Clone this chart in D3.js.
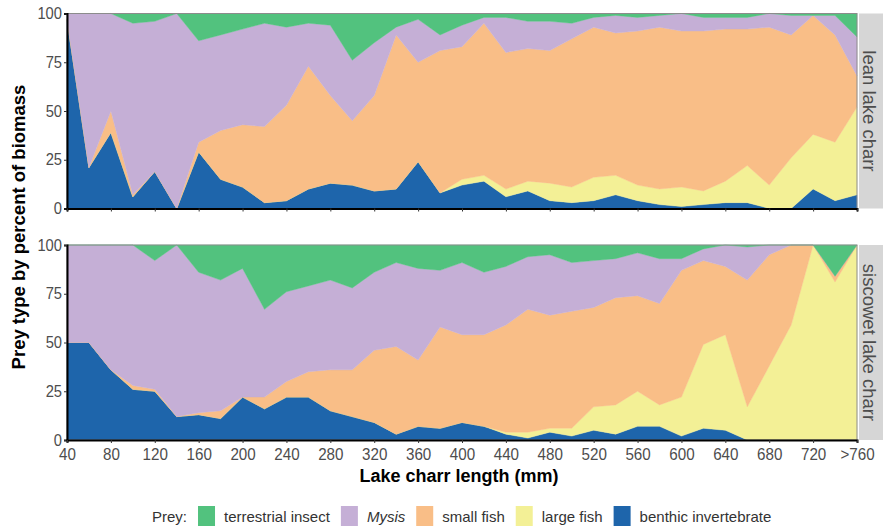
<!DOCTYPE html>
<html>
<head>
<meta charset="utf-8">
<script src="https://cdn.jsdelivr.net/npm/d3@7"></script>
<style>
  html, body { margin: 0; padding: 0; background: #ffffff; }
  svg { display: block; font-family: "Liberation Sans", Arial, Helvetica, sans-serif; }
</style>
</head>
<body>
<svg id="chart" width="883" height="529"></svg>
<script>
// Lake charr length classes (mm), 20 mm bins; last bin is ">760"
const lengths = d3.range(40, 761, 20);
const tickValues = d3.range(40, 761, 40);
const tickLabels = tickValues.map(v => v === 760 ? ">760" : String(v));

// Prey categories, stacked bottom to top
const preyKeys = ["benthic", "large", "small", "mysis", "insect"];
const preyLabels = {
  insect: "terrestrial insect",
  mysis: "Mysis",
  small: "small fish",
  large: "large fish",
  benthic: "benthic invertebrate"
};
const preyColors = {
  insect: "#52c27e",
  mysis: "#c5afd6",
  small: "#f9be87",
  large: "#f3f096",
  benthic: "#1e65ab"
};
const legendOrder = ["insect", "mysis", "small", "large", "benthic"];

// Lean lake charr: percent of biomass by prey type
const leanBenthic = [97, 21, 39, 6, 19, 0, 29, 15, 11, 3, 4, 10, 13, 12, 9, 10, 24, 8, 12, 14, 6, 9, 4, 3, 4, 7, 4, 2, 1, 2, 3, 3, 0, 0, 10, 4, 7];
const leanLarge   = [0, 0, 0, 0, 0, 0, 0, 0, 0, 0, 0, 0, 0, 0, 0, 0, 0, 0, 3, 3, 4, 5, 9, 8, 12, 10, 8, 8, 10, 7, 11, 19, 12, 26, 28, 30, 45];
const leanSmall   = [0, 0, 11, 1, 0, 0, 5, 25, 32, 39, 49, 63, 45, 33, 49, 79, 51, 73, 68, 78, 70, 68, 68, 76, 77, 73, 79, 83, 80, 82, 78, 70, 81, 63, 61, 55, 16];
const leanMysis   = [3, 79, 50, 88, 77, 100, 52, 49, 49, 53, 40, 22, 36, 31, 27, 4, 22, 8, 11, 3, 18, 14, 15, 8, 5, 9, 7, 6, 9, 7, 6, 6, 7, 10, 0, 10, 20];
const leanInsect  = [0, 0, 0, 5, 4, 0, 14, 11, 8, 5, 7, 5, 6, 24, 15, 7, 3, 11, 6, 2, 2, 4, 4, 5, 2, 1, 2, 1, 0, 2, 2, 2, 0, 1, 1, 1, 12];

// Siscowet lake charr: percent of biomass by prey type
const sisBenthic = [50, 50, 36, 26, 25, 12, 13, 11, 22, 16, 22, 22, 15, 12, 9, 3, 7, 6, 9, 7, 3, 1, 4, 2, 5, 3, 7, 7, 2, 6, 5, 0, 0, 0, 0, 0, 0];
const sisLarge   = [0, 0, 0, 0, 0, 0, 0, 0, 0, 0, 0, 0, 0, 0, 0, 0, 0, 0, 0, 0, 1, 3, 2, 4, 12, 15, 18, 11, 20, 43, 49, 17, 38, 59, 100, 81, 100];
const sisSmall   = [0, 0, 0, 2, 1, 0, 1, 4, 0, 6, 8, 13, 21, 24, 37, 45, 34, 52, 45, 47, 55, 63, 58, 60, 51, 55, 49, 52, 65, 43, 35, 65, 57, 41, 0, 3, 0];
const sisMysis   = [50, 50, 64, 72, 66, 88, 72, 67, 66, 45, 46, 44, 46, 42, 40, 43, 47, 29, 37, 32, 30, 27, 31, 25, 24, 20, 22, 23, 6, 6, 11, 17, 5, 0, 0, 0, 0];
const sisInsect  = [0, 0, 0, 0, 8, 0, 14, 18, 12, 33, 24, 21, 18, 22, 14, 9, 12, 13, 9, 14, 11, 6, 5, 9, 8, 7, 4, 7, 7, 2, 0, 1, 0, 0, 0, 16, 0];

const yTicks = [0, 25, 50, 75, 100];

function buildRows(benthic, large, small, mysis, insect) {
  return lengths.map((len, i) => ({
    length: len,
    benthic: benthic[i], large: large[i], small: small[i], mysis: mysis[i], insect: insect[i]
  }));
}

// narrow the glyphs of a text selection horizontally
function condense(sel, factor) {
  sel.each(function () {
    const w = this.getComputedTextLength();
    if (w > 0) {
      d3.select(this).attr("textLength", w * factor).attr("lengthAdjust", "spacingAndGlyphs");
    }
  });
}

const panels = [
  { label: "lean lake charr", rows: buildRows(leanBenthic, leanLarge, leanSmall, leanMysis, leanInsect), top: 13.5, bottom: 208.5, showX: false },
  { label: "siscowet lake charr", rows: buildRows(sisBenthic, sisLarge, sisSmall, sisMysis, sisInsect), top: 245, bottom: 440, showX: true }
];

const svg = d3.select("#chart");
const left = 67, right = 857;
const x = d3.scaleLinear().domain([40, 760]).range([left, right]);
const stack = d3.stack().keys(preyKeys);

panels.forEach(p => {
  const y = d3.scaleLinear().domain([0, 100]).range([p.bottom, p.top]);
  const g = svg.append("g");

  const series = stack(p.rows);
  const area = d3.area()
    .x(d => x(d.data.length))
    .y0(d => y(d[0]))
    .y1(d => y(d[1]))
    .curve(d3.curveLinear);

  g.selectAll("path.layer")
    .data(series)
    .join("path")
    .attr("class", "layer")
    .attr("d", area)
    .attr("fill", d => preyColors[d.key])
    .attr("stroke", d => preyColors[d.key])
    .attr("stroke-width", 0.4);

  // panel frame
  g.append("rect")
    .attr("x", left).attr("y", p.top)
    .attr("width", right - left).attr("height", p.bottom - p.top)
    .attr("fill", "none").attr("stroke", "#8c8c8c").attr("stroke-width", 1);

  // y axis
  const yAxis = d3.axisLeft(y).tickValues(yTicks).tickSize(3).tickPadding(2);
  const ya = g.append("g").attr("transform", `translate(${left},0)`).call(yAxis);
  ya.select(".domain").attr("stroke", "#000").attr("stroke-width", 2);
  ya.selectAll(".tick line").attr("stroke", "#333");
  ya.selectAll(".tick text").attr("fill", "#4d4d4d").style("font-size", "16px").call(condense, 0.92);

  // x axis line (ticks labelled only on the lower panel)
  const xAxis = d3.axisBottom(x).tickValues(tickValues).tickSize(3).tickPadding(5)
    .tickFormat((d, i) => p.showX ? tickLabels[i] : "");
  const xa = g.append("g").attr("transform", `translate(0,${p.bottom})`).call(xAxis);
  xa.select(".domain").attr("stroke", "#000").attr("stroke-width", 2);
  xa.selectAll(".tick line").attr("stroke", "#333");
  xa.selectAll(".tick text").attr("fill", "#4d4d4d").style("font-size", "16.5px").call(condense, 0.92);

  // facet strip
  g.append("rect")
    .attr("x", 859).attr("y", p.top)
    .attr("width", 30).attr("height", p.bottom - p.top)
    .attr("fill", "#d6d6d6");
  g.append("text")
    .attr("transform", `translate(869,${(p.top + p.bottom) / 2}) rotate(90)`)
    .attr("text-anchor", "middle")
    .attr("dominant-baseline", "central")
    .attr("fill", "#4d4d4d")
    .style("font-size", "18.5px")
    .text(p.label);
});

// axis titles
svg.append("text")
  .attr("x", (left + right) / 2 - 3).attr("y", 482)
  .attr("text-anchor", "middle")
  .style("font-size", "18px").style("font-weight", "bold")
  .attr("fill", "#000")
  .text("Lake charr length (mm)");

svg.append("text")
  .attr("transform", "translate(18,227) rotate(-90)")
  .attr("text-anchor", "middle")
  .attr("dominant-baseline", "central")
  .style("font-size", "18.5px").style("font-weight", "bold")
  .attr("fill", "#000")
  .text("Prey type by percent of biomass");

// legend
const legend = svg.append("g").attr("transform", "translate(0,516)");
let cx = 152;
const title = legend.append("text")
  .attr("x", cx).attr("y", 0)
  .attr("dominant-baseline", "central")
  .style("font-size", "15px").attr("fill", "#333")
  .text("Prey:");
cx += title.node().getComputedTextLength() + 11;
legendOrder.forEach(k => {
  legend.append("rect")
    .attr("x", cx).attr("y", -10)
    .attr("width", 17).attr("height", 20)
    .attr("fill", preyColors[k]);
  cx += 17 + 9;
  const t = legend.append("text")
    .attr("x", cx).attr("y", 0)
    .attr("dominant-baseline", "central")
    .style("font-size", "15px").attr("fill", "#333")
    .style("font-style", k === "mysis" ? "italic" : "normal")
    .text(preyLabels[k]);
  cx += t.node().getComputedTextLength() + 11;
});
</script>
</body>
</html>
